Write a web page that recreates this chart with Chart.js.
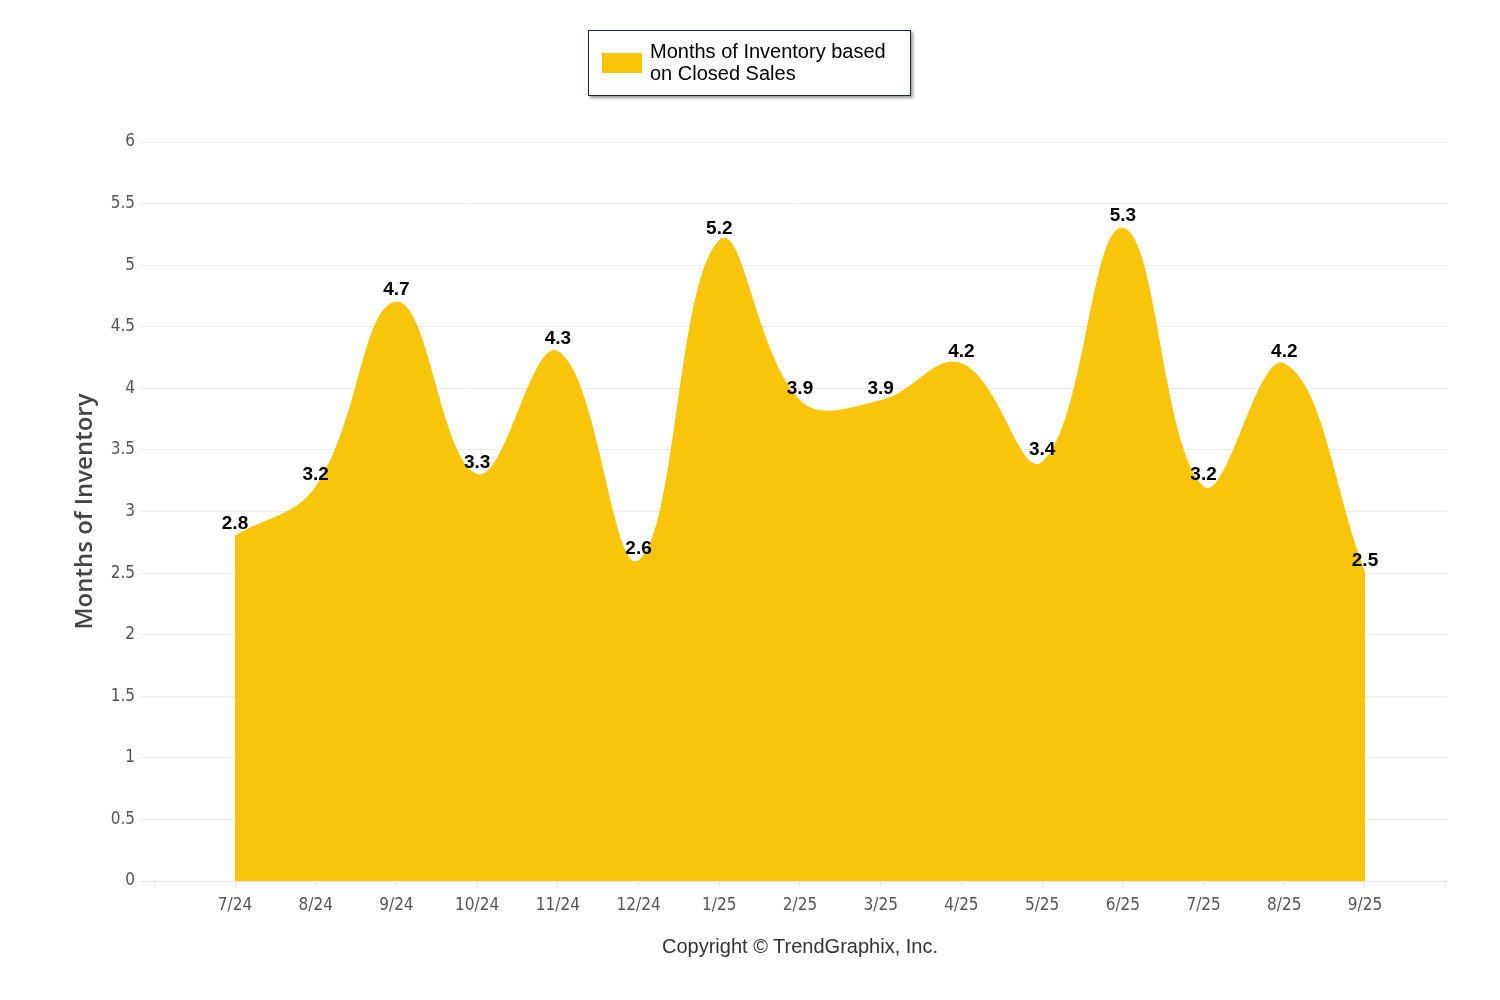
<!DOCTYPE html>
<html>
<head>
<meta charset="utf-8">
<script src="https://cdn.jsdelivr.net/npm/chart.js@4"></script>
<style>
  body { margin: 0; background: #fff; }
  #wrap { position: relative; width: 1500px; height: 1000px; }
  #legend {
    position: absolute; left: 588px; top: 30px; width: 321px; height: 64px;
    border: 1px solid #1c2242; box-shadow: 2px 2px 3px #999; background: #fff;
    font-family: "Liberation Sans", Arial, sans-serif; font-size: 20px; color: #000;
  }
  #legend .swatch { position: absolute; left: 13px; top: 22px; width: 40px; height: 20px; background: #F8C50A; }
  #legend .text { position: absolute; left: 61px; top: 9px; line-height: 22px; }
  #copy {
    position: absolute; left: 0; width: 1600px; top: 935px; text-align: center;
    font-family: "Liberation Sans", Arial, sans-serif; font-size: 20px; color: #333;
  }
</style>
</head>
<body>
<div id="wrap">
  <canvas id="myChart" width="1500" height="1000"></canvas>
  <div id="legend"><div class="swatch"></div><div class="text">Months of Inventory based<br>on Closed Sales</div></div>
  <div id="copy">Copyright © TrendGraphix, Inc.</div>
</div>
<script>
// Data
const months = ['7/24', '8/24', '9/24', '10/24', '11/24', '12/24', '1/25', '2/25', '3/25', '4/25', '5/25', '6/25', '7/25', '8/25', '9/25'];
const inventory = [2.8, 3.2, 4.7, 3.3, 4.3, 2.6, 5.2, 3.9, 3.9, 4.2, 3.4, 5.3, 3.2, 4.2, 2.5];
const yTicks = [0, 0.5, 1, 1.5, 2, 2.5, 3, 3.5, 4, 4.5, 5, 5.5, 6];

const tickFont = { family: '"Liberation Sans Narrow", "DejaVu Sans Condensed", sans-serif', size: 17 };

// Draw value labels above each point
const valueLabels = {
    id: 'valueLabels',
    afterDatasetsDraw(chart) {
        const ctx = chart.ctx;
        const meta = chart.getDatasetMeta(0);
        ctx.save();
        ctx.font = 'bold 19px "Liberation Sans", Arial, sans-serif';
        ctx.fillStyle = '#000';
        ctx.textAlign = 'center';
        ctx.textBaseline = 'alphabetic';
        meta.data.forEach((pt, i) => {
            ctx.fillText(inventory[i].toFixed(1), pt.x, pt.y - 7);
        });
        ctx.restore();
    }
};

const ctx = document.getElementById('myChart').getContext('2d');
new Chart(ctx, {
    type: 'line',
    data: {
        datasets: [{
            label: 'Months of Inventory based on Closed Sales',
            data: inventory.map((v, i) => ({ x: i, y: v })),
            borderColor: '#F8C50A',
            backgroundColor: '#F8C50A',
            borderWidth: 1,
            fill: 'origin',
            tension: 0.4,
            pointRadius: 0
        }]
    },
    options: {
        responsive: false,
        animation: false,
        layout: { padding: { left: 71, right: 53, top: 142, bottom: 79 } },
        plugins: {
            legend: { display: false },
            tooltip: { enabled: false }
        },
        scales: {
            x: {
                type: 'linear',
                min: -1.177,
                max: 15.016,
                afterBuildTicks: scale => {
                    scale.ticks = [];
                    for (let i = -1; i <= months.length; i++) scale.ticks.push({ value: i });
                },
                afterFit: scale => { scale.height = 40; },
                ticks: {
                    autoSkip: false,
                    maxRotation: 0,
                    padding: 8,
                    color: '#555',
                    font: tickFont,
                    callback: v => months[v] || ''
                },
                grid: { drawOnChartArea: false, drawTicks: true, tickLength: 6, tickColor: '#e6e6e6' },
                border: { display: true, color: '#e6e6e6' }
            },
            y: {
                min: 0,
                max: 6,
                afterBuildTicks: scale => { scale.ticks = yTicks.map(v => ({ value: v })); },
                afterFit: scale => { scale.width = 69; },
                ticks: { color: '#555', font: tickFont, padding: 5, callback: v => String(v) },
                grid: { color: '#ececec', drawTicks: false },
                border: { display: false },
                title: {
                    display: true,
                    text: 'Months of Inventory',
                    color: '#444',
                    padding: 0,
                    font: { family: '"Open Sans", sans-serif', size: 24, weight: '600' }
                }
            }
        }
    },
    plugins: [valueLabels]
});
</script>
</body>
</html>
